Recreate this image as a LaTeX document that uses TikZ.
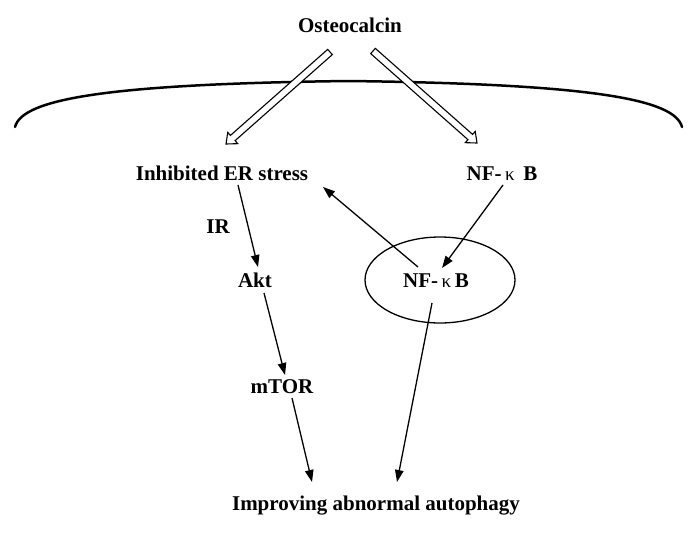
\documentclass[tikz,border=0pt]{standalone}
\usepackage{fontspec}
\setmainfont{Liberation Serif}
\usetikzlibrary{arrows.meta,calc,shapes.geometric}
\newcommand\kap{\,{\fontsize{19}{19}\selectfont\mdseries κ}\,}
\newcommand\harrow[2]{%
  \coordinate (hh) at ($(#2)!9pt!(#1)$);
  \draw[hollow] ($(#1)!3.5pt!90:(#2)$) -- ($(hh)!3.5pt!90:(#2)$) -- ($(hh)!7.5pt!90:(#2)$) -- (#2)
    -- ($(hh)!7.5pt!-90:(#2)$) -- ($(hh)!3.5pt!-90:(#2)$) -- ($(#1)!3.5pt!-90:(#2)$) -- cycle;}
\begin{document}
\begin{tikzpicture}[x=1pt,y=-1pt,
  lbl/.style={font=\fontsize{21}{25}\selectfont\bfseries, anchor=base, inner sep=0pt},
  arr/.style={line width=1.3pt, -{Triangle[length=12pt,width=8.5pt]}},
  hollow/.style={draw, line width=1.1pt, fill=white, line join=miter},
  membrane/.style={line width=2.5pt, line cap=round},
  nucleus/.style={draw, ellipse, minimum width=150pt, minimum height=86pt, inner sep=0pt, line width=1.3pt}]
\useasboundingbox[fill=white] (0,0) rectangle (700,533);
% membrane
\draw[membrane] (15,127) .. controls (22,100) and (100,84) .. (348.5,81)
  .. controls (597,84) and (675,100) .. (682,127);
% nodes
\node[lbl] (ost) at (350,32) {Osteocalcin};
\node[lbl] (er) at (222,180) {Inhibited ER stress};
\node[lbl] (nft) at (502,180) {NF-\kap\ B};
\node[lbl] (ir) at (218,233) {IR};
\node[lbl] (akt) at (255,287) {Akt};
\node[nucleus] (ell) at (440,280) {};
\node[lbl] (nfi) at (436,287) {NF-\kap B};
\node[lbl] (mtor) at (282,393) {mTOR};
\node[lbl] (imp) at (376,510) {Improving abnormal autophagy};
% hollow arrows
\coordinate (oL) at ([shift={(-20,20)}]ost.base);
\coordinate (tL) at ([shift={(4,-36)}]er.base);
\coordinate (oR) at ([shift={(23,19)}]ost.base);
\coordinate (tR) at ([shift={(-25,-37)}]nft.base);
\harrow{oL}{tL}
\harrow{oR}{tR}
% connectors
\draw[arr] ([shift={(16,5)}]er.base) -- ([shift={(3,-20)}]akt.base);
\draw[arr] ([shift={(9,6)}]akt.base) -- ([shift={(3,-18)}]mtor.base);
\draw[arr] ([shift={(10,5)}]mtor.base) -- ([shift={(-64,-28)}]imp.base);
\draw[arr] ([shift={(1,5)}]nft.base) -- ([shift={(6,-19)}]nfi.base);
\draw[arr] ([shift={(-18,-20)}]nfi.base) -- ([shift={(101,7)}]er.base);
\draw[arr] ([shift={(-4,16)}]nfi.base) -- ([shift={(21,-28)}]imp.base);
\end{tikzpicture}
\end{document}
